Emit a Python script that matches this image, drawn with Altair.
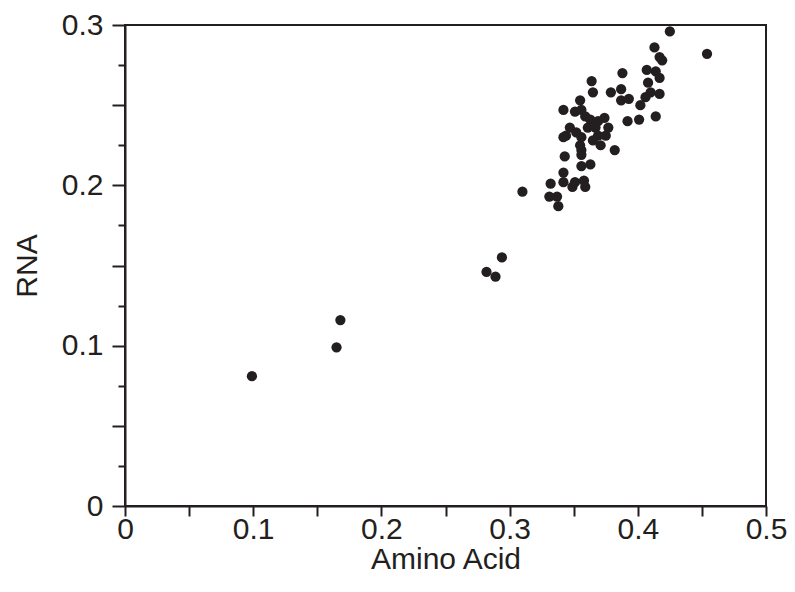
import altair as alt
import pandas as pd

amino_acid = [0.099, 0.165, 0.168, 0.282, 0.289, 0.294, 0.310, 0.454, 0.425, 0.413,
              0.417, 0.419, 0.388, 0.407, 0.414, 0.417, 0.408, 0.410, 0.417, 0.406,
              0.402, 0.379, 0.387, 0.387, 0.393, 0.392, 0.401, 0.414, 0.364, 0.365,
              0.355, 0.342, 0.351, 0.356, 0.359, 0.363, 0.369, 0.374, 0.347, 0.361,
              0.367, 0.377, 0.344, 0.352, 0.369, 0.375, 0.342, 0.356, 0.365, 0.371,
              0.355, 0.356, 0.382, 0.343, 0.356, 0.356, 0.363, 0.342, 0.332, 0.342,
              0.349, 0.351, 0.358, 0.359, 0.331, 0.337, 0.338]
rna = [0.081, 0.099, 0.116, 0.146, 0.143, 0.155, 0.196, 0.282, 0.296, 0.286,
       0.280, 0.278, 0.270, 0.272, 0.271, 0.267, 0.264, 0.258, 0.257, 0.255,
       0.250, 0.258, 0.260, 0.253, 0.254, 0.240, 0.241, 0.243, 0.265, 0.258,
       0.253, 0.247, 0.246, 0.247, 0.243, 0.241, 0.240, 0.242, 0.236, 0.236,
       0.236, 0.236, 0.231, 0.233, 0.231, 0.231, 0.230, 0.230, 0.228, 0.225,
       0.225, 0.222, 0.222, 0.218, 0.219, 0.212, 0.213, 0.208, 0.201, 0.202,
       0.199, 0.202, 0.203, 0.199, 0.193, 0.193, 0.187]

x_ticks = [0, 0.05, 0.1, 0.15, 0.2, 0.25, 0.3, 0.35, 0.4, 0.45, 0.5]
y_ticks = [0, 0.025, 0.05, 0.075, 0.1, 0.125, 0.15, 0.175, 0.2, 0.225, 0.25, 0.275, 0.3]

df = pd.DataFrame({"Amino Acid": amino_acid, "RNA": rna})

FONT = "Liberation Sans"
INK = "#231f20"
FS = 30

chart = alt.Chart(df).mark_circle(size=105, color=INK, opacity=1).encode(
    x=alt.X("Amino Acid:Q",
            scale=alt.Scale(domain=[0, 0.5], nice=False, zero=False),
            axis=alt.Axis(values=x_ticks,
                          labelExpr="(round(datum.value*100) % 10 == 0) ? (datum.value == 0 ? '0' : format(datum.value, '.1f')) : ''",
                          tickSize=10, tickWidth=2, tickColor=INK,
                          domainColor=INK, domainWidth=2, grid=False,
                          labelFont=FONT, labelFontSize=FS, labelColor=INK,
                          labelPadding=-2, labelFlush=False,
                          title="Amino Acid", titleFont=FONT, titleFontSize=FS,
                          titleFontWeight="normal", titleColor=INK, titlePadding=0)),
    y=alt.Y("RNA:Q",
            scale=alt.Scale(domain=[0, 0.3], nice=False, zero=False),
            axis=alt.Axis(values=y_ticks,
                          labelExpr="(round(datum.value*1000) % 100 == 0) ? (datum.value == 0 ? '0' : format(datum.value, '.1f')) : ''",
                          tickSize={"condition": {"test": "round(datum.value*1000) % 50 == 0", "value": 13}, "value": 7},
                          tickWidth=2, tickColor=INK,
                          domainColor=INK, domainWidth=2, grid=False,
                          labelFont=FONT, labelFontSize=FS, labelColor=INK,
                          labelPadding=9, labelFlush=False,
                          title="RNA", titleFont=FONT, titleFontSize=FS,
                          titleFontWeight="normal", titleColor=INK, titlePadding=19)),
).properties(
    width=641, height=481,
    autosize=alt.AutoSizeParams(type="none"),
    padding={"left": 117, "top": 17, "right": 21, "bottom": 78},
).configure_view(stroke=INK, strokeWidth=2)

chart.save("out.html", embed_options={"renderer": "svg", "actions": False})
